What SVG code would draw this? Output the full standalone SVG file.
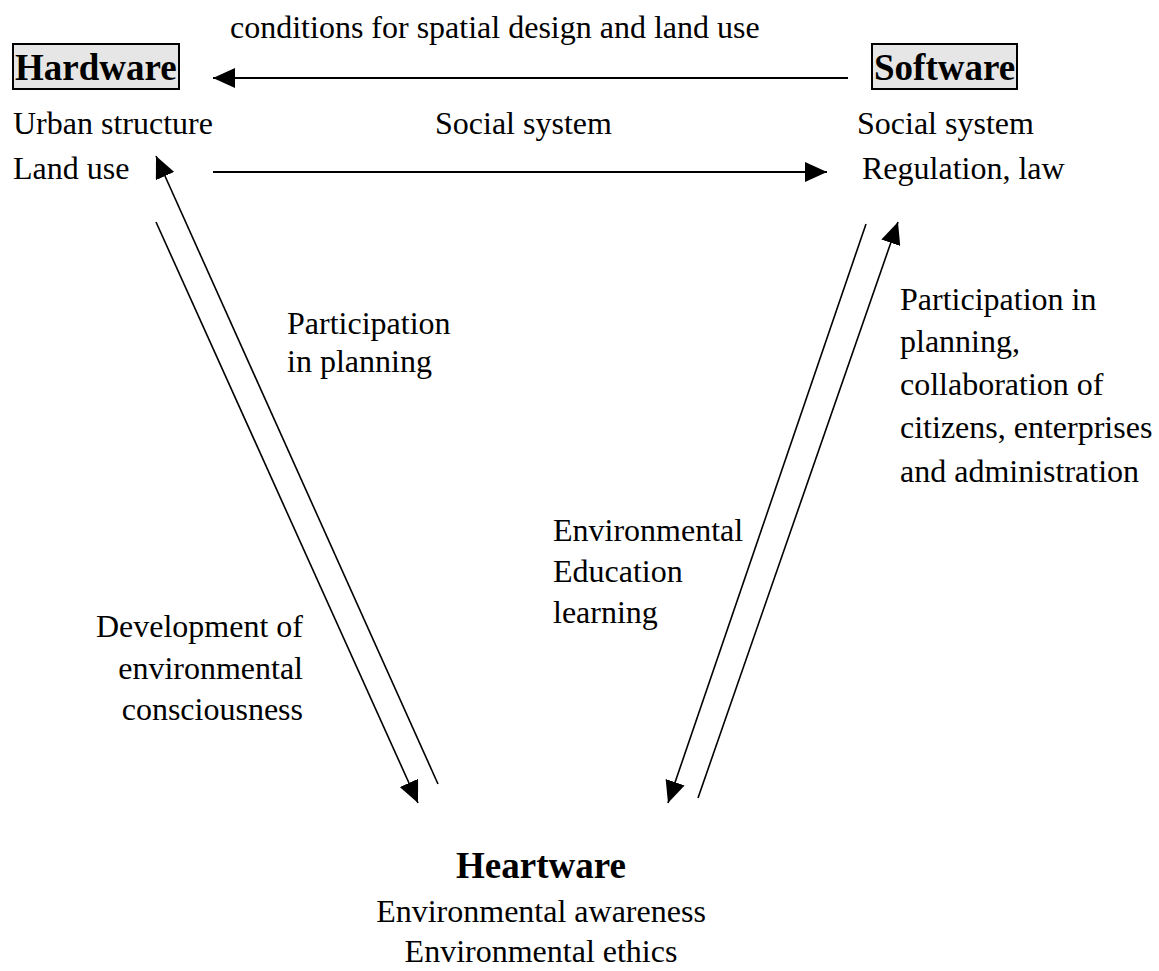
<svg xmlns="http://www.w3.org/2000/svg" width="1159" height="971" viewBox="0 0 1159 971">
<defs>
<style>
text{font-family:"Liberation Serif","Times New Roman",serif;font-size:32px;fill:#000}
.title{font-weight:bold;font-size:37px}
.mid{text-anchor:middle}
.end{text-anchor:end}
.box{fill:#e6e6e6;stroke:#000;stroke-width:2}
.conn line{stroke:#000;fill:none}
.h{stroke-width:2}
.d{stroke-width:1.6}
</style>
<marker id="arr" viewBox="0 0 22 20" refX="22" refY="10" markerWidth="22" markerHeight="20" markerUnits="userSpaceOnUse" orient="auto">
<path d="M0,0 L22,10 L0,20 z" fill="#000"/>
</marker>
</defs>
<rect width="1159" height="971" fill="#fff"/>
<g id="hardware">
<rect class="box" x="13" y="44" width="166" height="45"/>
<text class="title" x="15" y="80">Hardware</text>
<text x="13" y="134">Urban structure</text>
<text x="13" y="179">Land use</text>
</g>
<g id="software">
<rect class="box" x="872" y="44" width="145" height="45"/>
<text class="title" x="874" y="80">Software</text>
<text x="857" y="134">Social system</text>
<text x="862" y="179">Regulation, law</text>
</g>
<g id="heartware">
<text class="title mid" x="541" y="878">Heartware</text>
<text class="mid" x="541" y="922">Environmental awareness</text>
<text class="mid" x="541" y="962">Environmental ethics</text>
</g>
<g id="labels">
<text x="230" y="38">conditions for spatial design and land use</text>
<text x="435" y="134">Social system</text>
<text x="287" y="334">Participation</text>
<text x="287" y="372">in planning</text>
<text x="900" y="310">Participation in</text>
<text x="900" y="352">planning,</text>
<text x="900" y="395">collaboration of</text>
<text x="900" y="438">citizens, enterprises</text>
<text x="900" y="482">and administration</text>
<text class="end" x="303" y="637">Development of</text>
<text class="end" x="303" y="679">environmental</text>
<text class="end" x="303" y="720">consciousness</text>
<text x="553" y="541">Environmental</text>
<text x="553" y="582">Education</text>
<text x="553" y="623">learning</text>
</g>
<g id="connectors" class="conn">
<line class="h" x1="848" y1="78" x2="213" y2="78" marker-end="url(#arr)"/>
<line class="h" x1="213" y1="172" x2="827" y2="172" marker-end="url(#arr)"/>
<line class="d" x1="438" y1="784" x2="156" y2="156" marker-end="url(#arr)"/>
<line class="d" x1="156" y1="222" x2="418" y2="803" marker-end="url(#arr)"/>
<line class="d" x1="866" y1="224" x2="668" y2="803" marker-end="url(#arr)"/>
<line class="d" x1="698" y1="798" x2="898" y2="222" marker-end="url(#arr)"/>
</g>
</svg>
